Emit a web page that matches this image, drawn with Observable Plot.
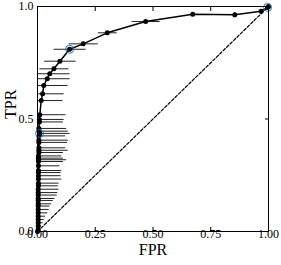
<!DOCTYPE html>
<html>
<head>
<meta charset="utf-8">
<script src="https://cdn.jsdelivr.net/npm/d3@7"></script>
<script src="https://cdn.jsdelivr.net/npm/@observablehq/plot@0.6"></script>
<style>
  html, body { margin: 0; padding: 0; background: #fff; }
</style>
</head>
<body>
<div id="chart"></div>
<script>
// ROC curve points (FPR, TPR) with horizontal / vertical error half-widths
const fpr = [0, 0.003, 0.003, 0.003, 0.003, 0.003, 0.003, 0.003, 0.003, 0.003, 0.003, 0.003, 0.003, 0.003, 0.003,
  0.004, 0.004, 0.004, 0.004, 0.004, 0.004, 0.004, 0.004, 0.004, 0.004, 0.004,
  0.006, 0.006, 0.006, 0.006, 0.006, 0.006, 0.009, 0.006, 0.006, 0.008, 0.008,
  0.010, 0.016, 0.022, 0.027, 0.042, 0.053, 0.071, 0.097, 0.139, 0.198, 0.302, 0.468, 0.672, 0.854, 0.968, 0.996, 1.000];
const tpr = [0, 0.009, 0.024, 0.039, 0.053, 0.068, 0.083, 0.098, 0.113, 0.123, 0.138, 0.147, 0.162, 0.173, 0.188,
  0.203, 0.215, 0.233, 0.248, 0.262, 0.271, 0.292, 0.311, 0.319, 0.326, 0.336,
  0.351, 0.361, 0.372, 0.396, 0.406, 0.425, 0.436, 0.446, 0.458, 0.487, 0.498,
  0.519, 0.582, 0.612, 0.649, 0.679, 0.701, 0.723, 0.757, 0.810, 0.834, 0.883, 0.933, 0.966, 0.963, 0.979, 0.996, 1.000];
const fprErr = [0, 0.007, 0.012, 0.019, 0.024, 0.030, 0.039, 0.045, 0.049, 0.056, 0.063, 0.071, 0.080, 0.082, 0.088,
  0.084, 0.087, 0.099, 0.096, 0.096, 0.099, 0.091, 0.106, 0.120, 0.106, 0.099,
  0.104, 0.125, 0.114, 0.122, 0.125, 0.114, 0.130, 0.125, 0.118, 0.102, 0.105,
  0.111, 0.092, 0.091, 0.103, 0.097, 0.086, 0.063, 0.068, 0.069, 0.063, 0.041, 0.061, 0, 0, 0, 0, 0];
const tprErr = [0, 0, 0, 0, 0, 0, 0, 0, 0, 0, 0, 0, 0, 0, 0,
  0, 0, 0, 0, 0, 0, 0, 0, 0, 0, 0,
  0, 0, 0, 0, 0, 0, 0, 0, 0, 0, 0,
  0, 0, 0, 0, 0, 0, 0, 0, 0, 0, 0, 0, 0, 0.011, 0.004, 0, 0];

// highlighted operating points (blue open circles)
const hlFpr = [0.139, 0.009, 0.996];
const hlTpr = [0.810, 0.436, 0.996];

// chance diagonal
const diagFpr = [0, 1];
const diagTpr = [0, 1];

const xTicks = [0, 0.25, 0.5, 0.75, 1];
const yTicks = [0, 0.5, 1];

const pts = fpr.map((x, i) => ({x, y: tpr[i], xe: fprErr[i], ye: tprErr[i]}));
const hl = hlFpr.map((x, i) => ({x, y: hlTpr[i]}));
const diag = diagFpr.map((x, i) => ({x, y: diagTpr[i]}));

const font = "'Liberation Serif', 'DejaVu Serif', serif";

const chart = Plot.plot({
  width: 281,
  height: 265,
  marginLeft: 37,
  marginRight: 13,
  marginTop: 6,
  marginBottom: 34,
  style: {fontFamily: font, fontSize: "12px", background: "white", color: "black"},
  x: {domain: [0, 1], label: null},
  y: {domain: [0, 1], label: null},
  marks: [
    Plot.line(diag, {x: "x", y: "y", stroke: "black", strokeWidth: 1.2, strokeDasharray: "3,1.8"}),
    Plot.link(pts.filter(d => d.xe > 0), {x1: d => d.x - d.xe, x2: d => d.x + d.xe, y1: "y", y2: "y", stroke: "#222", strokeWidth: 1, clip: true}),
    Plot.link(pts.filter(d => d.ye > 0), {x1: "x", x2: "x", y1: d => d.y - d.ye, y2: d => d.y + d.ye, stroke: "black", strokeWidth: 1, clip: true}),
    Plot.line(pts, {x: "x", y: "y", stroke: "black", strokeWidth: 1.5}),
    Plot.dot(pts, {x: "x", y: "y", r: 2.5, fill: "black"}),
    Plot.dot(hl, {x: "x", y: "y", r: 4, stroke: "#1f77b4", strokeWidth: 1, fill: "none"}),
    Plot.frame({stroke: "black", strokeWidth: 1}),
    Plot.axisX({anchor: "bottom", ticks: xTicks, tickSize: -4, tickPadding: 2, tickFormat: d3.format(".2f"), fontSize: 12, label: null}),
    Plot.axisX({anchor: "top", ticks: xTicks, tickSize: -4, tickFormat: () => "", label: null}),
    Plot.axisY({anchor: "left", ticks: yTicks, tickSize: -4, tickPadding: 8, tickFormat: d3.format(".1f"), fontSize: 12, label: null}),
    Plot.axisY({anchor: "right", ticks: yTicks, tickSize: -4, tickFormat: () => "", label: null}),
    Plot.text(["FPR"], {frameAnchor: "bottom", dy: 23, fontSize: 16, fill: "black"}),
    Plot.text(["TPR"], {frameAnchor: "left", dx: -27, rotate: -90, fontSize: 16, fill: "black"})
  ]
});
document.getElementById("chart").append(chart);
</script>
</body>
</html>
